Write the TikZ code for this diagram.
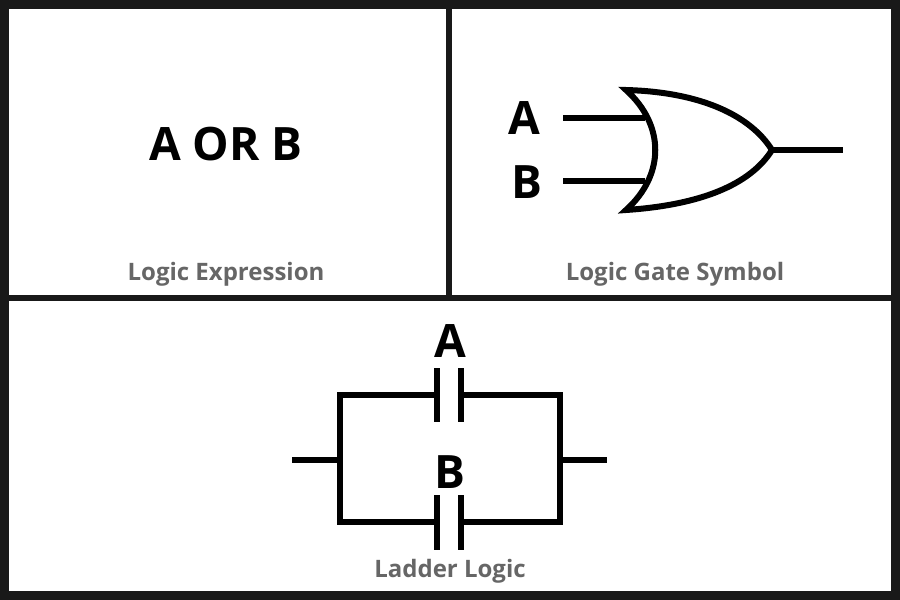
\documentclass[tikz,border=0pt]{standalone}
\usepackage{fontspec}
\setmainfont{Open Sans}
\begin{document}
\begin{tikzpicture}[x=1pt,y=-1pt,
  wire/.style={line width=6pt},
  big/.style={font=\fontsize{46}{50}\selectfont\bfseries},
  captxt/.style={font=\fontsize{24}{26}\selectfont\bfseries,text=black!60}]
\useasboundingbox (0,0) rectangle (900,600);
\fill[black!90] (0,0) rectangle (900,600);
\fill[white] (9,9) rectangle (891,591);
\fill[black!90] (446,9) rectangle (452,300);
\fill[black!90] (9,295) rectangle (891,301);
% panel 1
\node[big] (expr) at (226,144) {A OR B};
\node[captxt] (c1) at (226,274) {Logic Expression};
% panel 2
\node[big] (la) at (524,118) {A};
\node[big] (lb) at (527,182) {B};
\coordinate (ga) at (563,118); \coordinate (gae) at (645,118);
\coordinate (gb) at (563,181); \coordinate (gbe) at (645,181);
\draw[wire] (ga) -- (gae);
\draw[wire] (gb) -- (gbe);
\coordinate (gt) at (626,90); \coordinate (gbt) at (626,210);
\coordinate (tip) at (772,150); \coordinate (out) at (843,150);
\draw[wire,line join=miter] (gt) .. controls (665,125) and (665,175) .. (gbt)
  .. controls (700,205) and (750,185) .. (tip)
  .. controls (750,115) and (700,92) .. (gt) -- cycle;
\draw[wire] (tip) -- (out);
\node[captxt] (c2) at (675,274) {Logic Gate Symbol};
% panel 3
\coordinate (w1) at (292,460); \coordinate (w2) at (340,460);
\coordinate (w3) at (560,460); \coordinate (w4) at (607,460);
\draw[wire] (w1) -- (w2);
\draw[wire] (w3) -- (w4);
\draw[wire,line join=miter] (437,395) -- (340,395) -- (340,522) -- (437,522);
\draw[wire,line join=miter] (461,395) -- (560,395) -- (560,522) -- (461,522);
\draw[wire] (437,368) -- (437,422);
\draw[wire] (461,368) -- (461,422);
\draw[wire] (437,495) -- (437,550);
\draw[wire] (461,495) -- (461,550);
\node[big] (pa) at (450,341) {A};
\node[big] (pb) at (450,472) {B};
\node[captxt] (c3) at (450,571) {Ladder Logic};
\end{tikzpicture}
\end{document}
